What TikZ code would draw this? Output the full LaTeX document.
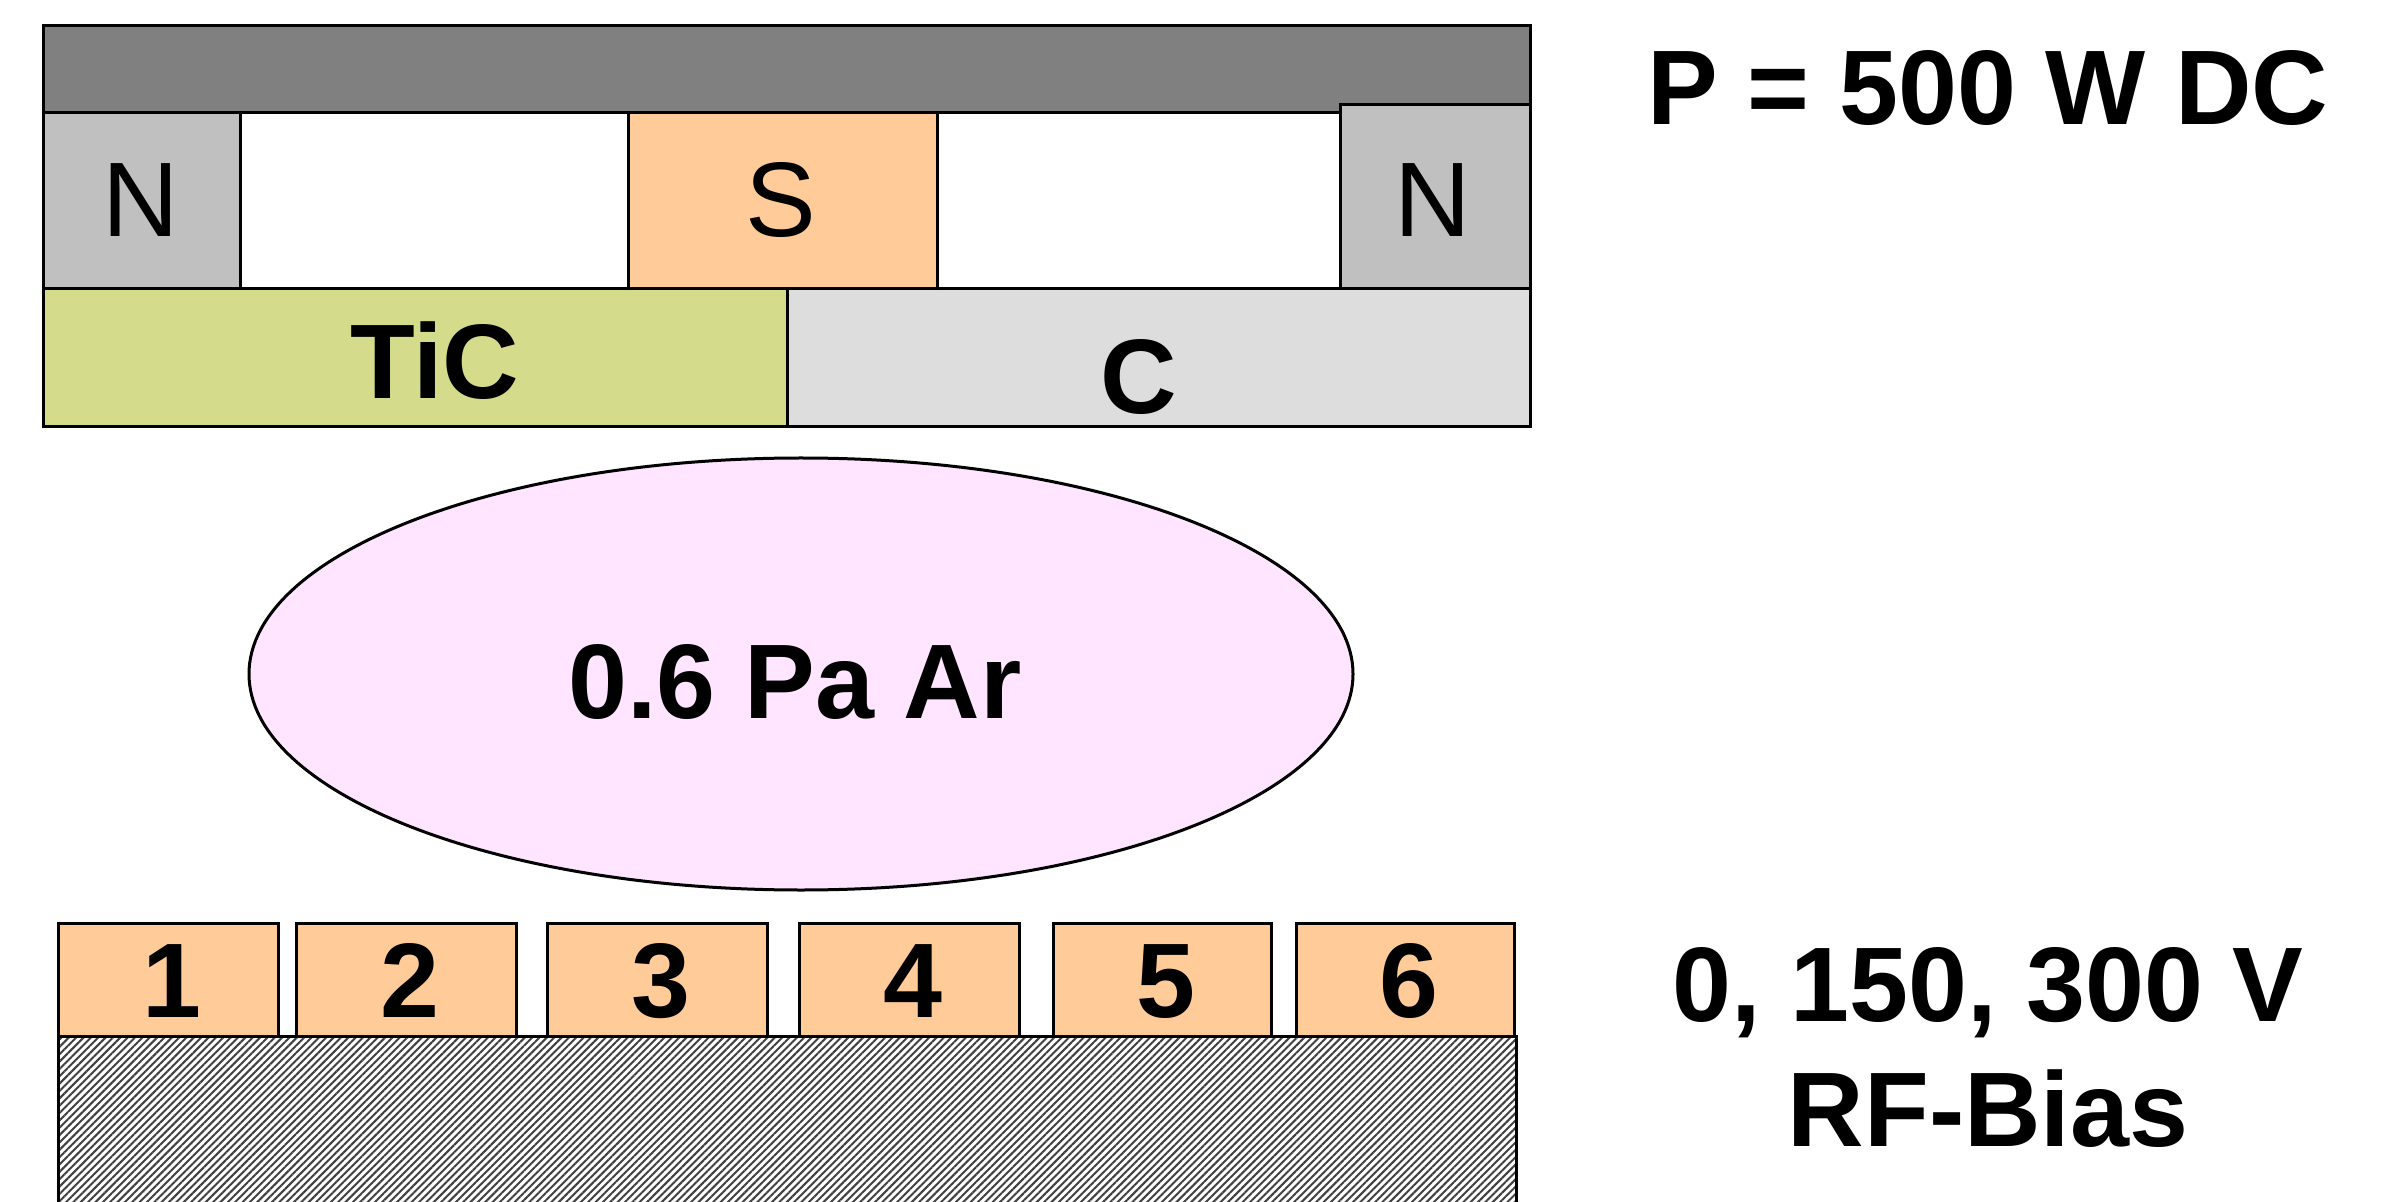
\documentclass[tikz,border=0pt]{standalone}
\usepackage{fontspec}
\setmainfont{Liberation Sans}
\usetikzlibrary{patterns.meta}
\definecolor{yoke}{HTML}{808080}
\definecolor{npole}{HTML}{C0C0C0}
\definecolor{spole}{HTML}{FFCC99}
\definecolor{tic}{HTML}{D4DB8B}
\definecolor{carbon}{HTML}{DDDDDD}
\definecolor{plasma}{HTML}{FFE5FF}
\tikzset{
  part/.style={draw=black, line width=1.5pt},
  lab/.style={anchor=base, inner sep=0pt, font=\fontsize{53}{60}\selectfont},
  blab/.style={lab, font=\fontsize{53}{60}\selectfont\bfseries},
}
\begin{document}
\begin{tikzpicture}[x=0.5pt,y=-0.5pt]
\useasboundingbox (0,0) rectangle (2396,1202);
% magnetron
\draw[part, fill=yoke] (43,26) rectangle (1530,113);
\draw[part, fill=npole] (43,113) rectangle (240,289);
\draw[part, fill=spole] (628,113) rectangle (937,289);
\draw[part, fill=npole] (1340,105) rectangle (1530,289);
\draw[part, fill=tic] (43,289) rectangle (787,427);
\draw[part, fill=carbon] (787,289) rectangle (1530,427);
\node[lab] (nl) at (141,237) {N};
\node[lab] (s) at (781,237) {S};
\node[lab] (nr) at (1433,237) {N};
\node[blab] (ticl) at (435,399) {TiC};
\node[blab] (cl) at (1139,414) {C};
% plasma
\draw[part, fill=plasma] (801,674) ellipse [x radius=552, y radius=216];
\node[blab] (ar) at (795,718) {0.6 Pa Ar};
% substrate holder
\draw[part, pattern={Lines[angle=45,distance=2.6pt,line width=1pt]}, pattern color=black!75] (58,1036) -- (58,1230) -- (1516,1230) -- (1516,1036) -- cycle;
\foreach \i/\a/\b in {1/58/278, 2/296/516, 3/547/767, 4/799/1019, 5/1053/1271, 6/1296/1514}{
  \draw[part, fill=spole] (\a,923) rectangle (\b,1036);
  \node[blab] (d\i) at ({(\a+\b)/2+4},1017) {\i};
}
% labels
\node[blab] (pwr) at (1988,125) {P = 500 W DC};
\node[blab] (bias) at (1988,1021) {0, 150, 300 V};
\node[blab] (rf) at (1988,1146) {RF-Bias};
\end{tikzpicture}
\end{document}
